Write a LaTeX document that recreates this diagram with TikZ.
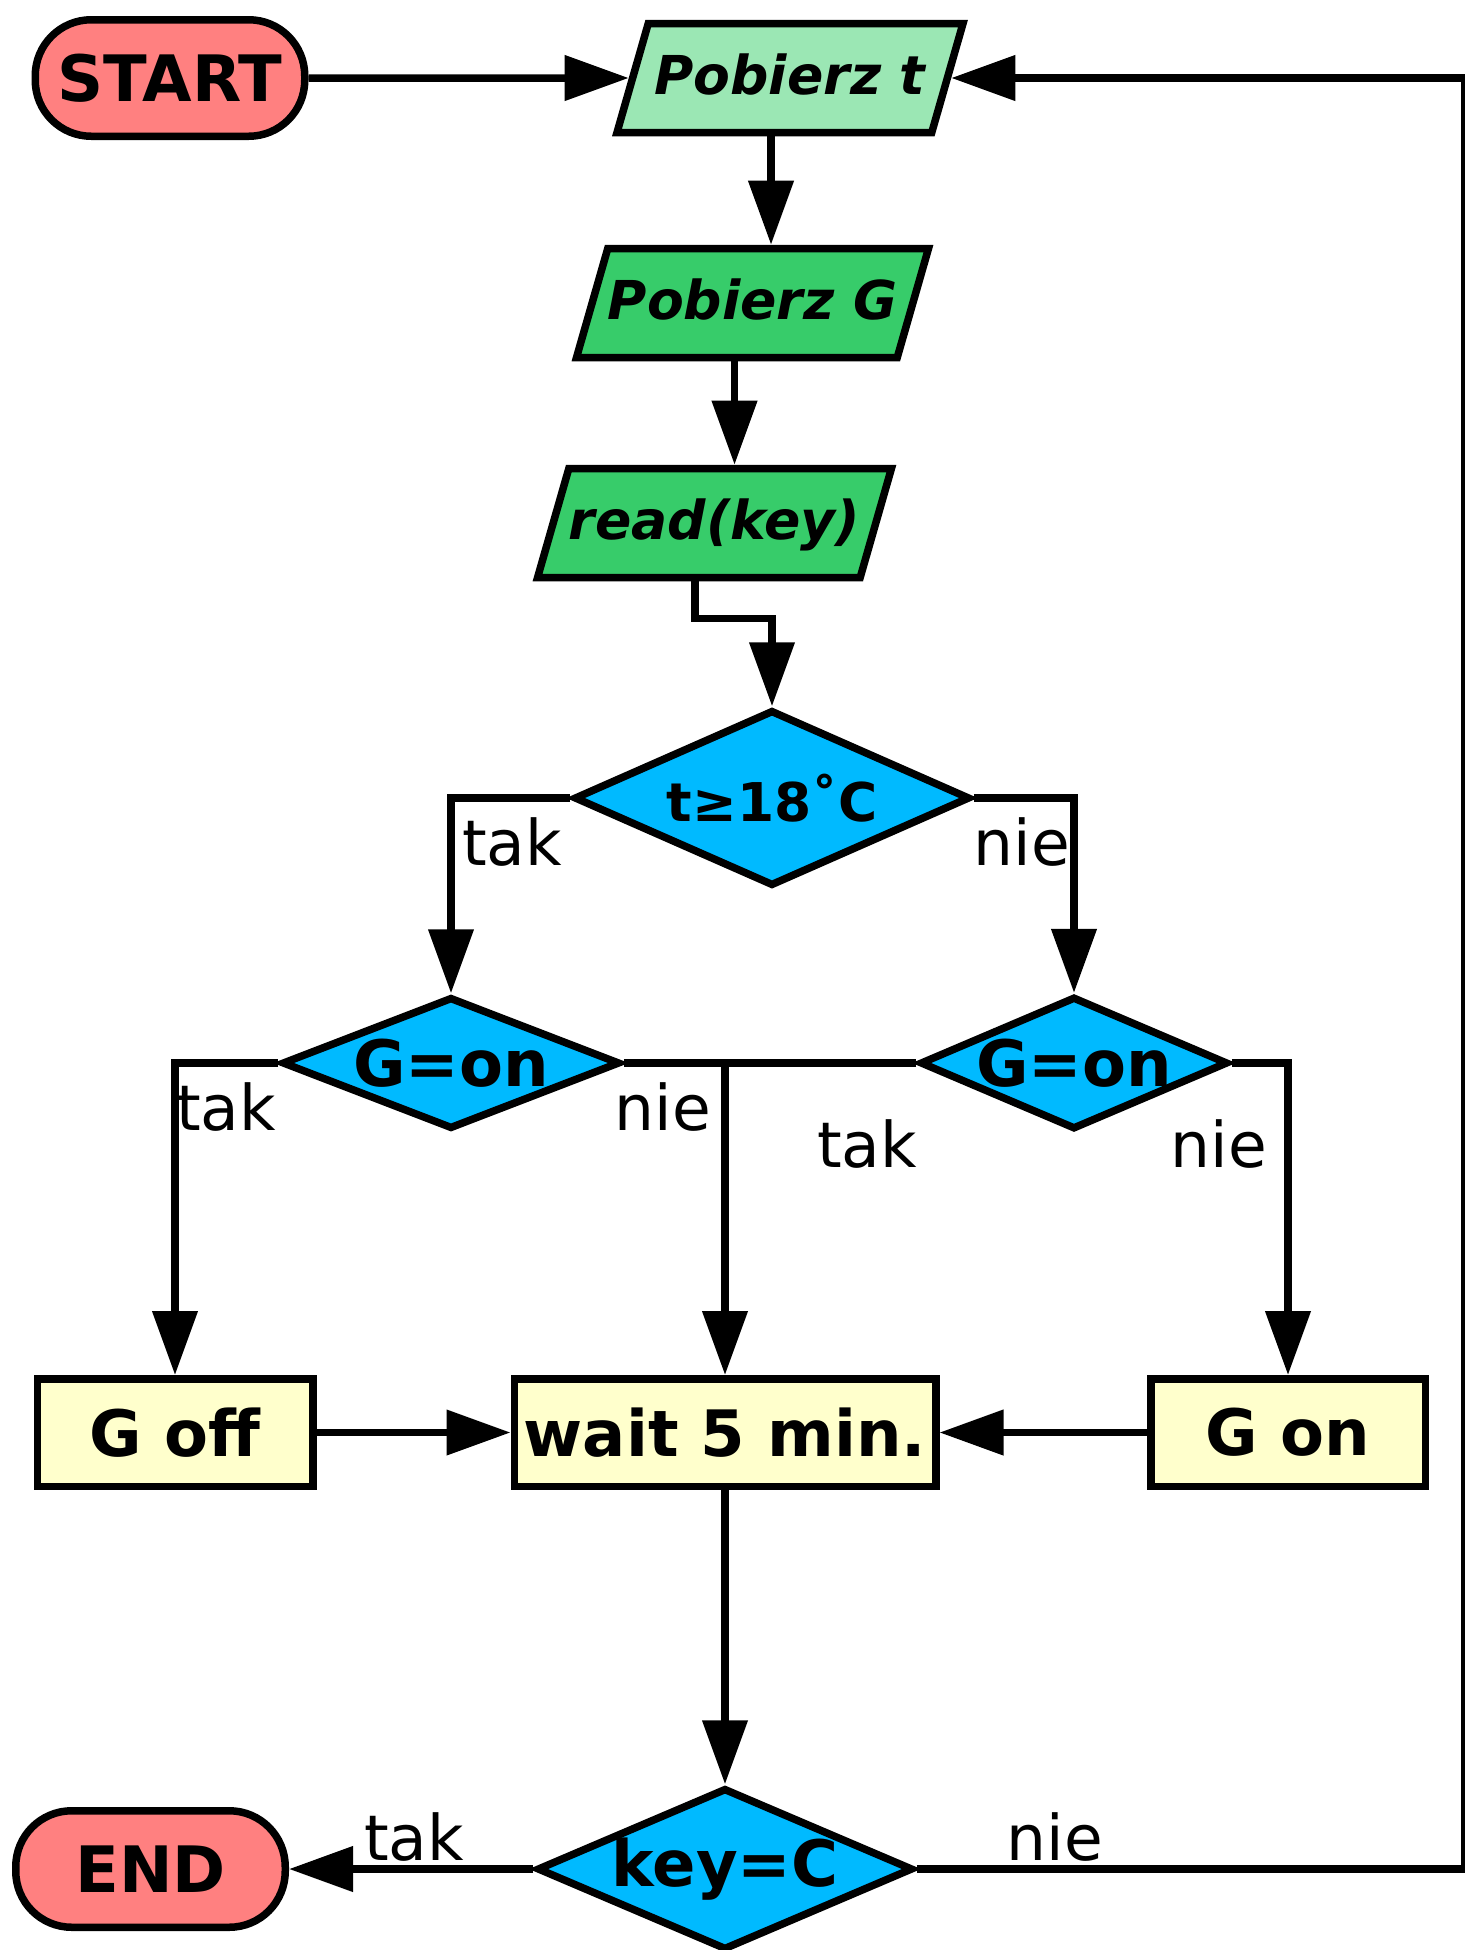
\documentclass[tikz,border=0pt]{standalone}
\usepackage{fontspec}
\setmainfont{DejaVu Sans}
\usetikzlibrary{shapes.geometric,arrows.meta,calc}
\definecolor{termred}{RGB}{255,128,128}
\definecolor{iolight}{RGB}{155,231,180}
\definecolor{iogreen}{RGB}{55,204,106}
\definecolor{decblue}{RGB}{0,186,255}
\definecolor{procyellow}{RGB}{255,255,204}
\begin{document}
\begin{tikzpicture}[x=0.5pt,y=-0.5pt,
  base/.style={draw, line width=3.75pt, inner sep=0pt, font=\fontsize{32}{37}\selectfont\bfseries},
  term/.style={base, fill=termred, rounded corners=28pt, minimum width=134.75pt, minimum height=58.25pt},
  io/.style={base, trapezium, trapezium left angle=74, trapezium right angle=106,
     trapezium stretches body, minimum width=173pt, text height=20pt, text depth=4pt,
     inner xsep=0pt, inner ysep=15.25pt,
     font=\fontsize{26.8}{30}\selectfont\bfseries\itshape},
  proc/.style={base, fill=procyellow, minimum height=53.75pt},
  dec/.style={base, diamond, fill=decblue},
  lab/.style={inner sep=0pt, font=\fontsize{31.5}{36}\selectfont},
  conn/.style={line width=3.75pt},
  arr/.style={conn, -{Triangle[length=32pt,width=22pt]}}
]
\useasboundingbox (0,0) rectangle (1465,1950);

\node[term] (start) at (170,78) {START};
\node[io, fill=iolight] (pt) at (790,78) {Pobierz t};
\node[io, fill=iogreen] (pG) at (752.5,303) {Pobierz G};
\node[io, fill=iogreen] (rk) at (714.5,523) {read(key)};
\node[dec, shape aspect=2.25, minimum width=198pt, minimum height=88pt, font=\fontsize{26.7}{31}\selectfont\bfseries] (D1) at (772,798) {t≥18˚C};
\node[dec, shape aspect=2.56, minimum width=169pt, minimum height=66pt] (D2) at (451,1063) {G=on};
\node[dec, shape aspect=2.32, minimum width=154pt, minimum height=66pt] (D3) at (1074,1063) {G=on};
\node[proc, minimum width=137.75pt] (goff) at (175,1432.5) {G off};
\node[proc, minimum width=210.75pt] (wait) at (725,1432.5) {wait 5 min.};
\node[proc, minimum width=137.25pt] (gon) at (1288,1432.5) {G on};
\node[dec, shape aspect=2.32, minimum width=188pt, minimum height=81pt] (D4) at (725,1869) {key=C};
\node[term] (end) at (150.5,1869) {END};

\node[lab] (l1) at (512,842) {tak};
\node[lab] (l2) at (1022,842) {nie};
\node[lab] (l3) at (226,1107) {tak};
\node[lab] (l4) at (663,1107) {nie};
\node[lab] (l5) at (867,1144) {tak};
\node[lab] (l6) at (1219,1144) {nie};
\node[lab] (l7) at (414,1837) {tak};
\node[lab] (l8) at (1055,1837) {nie};

\coordinate (loop) at (1465,1869);

\draw[arr] (start.east) -- (pt.west);
\draw[arr] ([xshift=-9.5pt]pt.south) -- ([xshift=-9.5pt]pt.south |- pG.north);
\draw[arr] ([xshift=-9pt]pG.south) -- ([xshift=-9pt]pG.south |- rk.north);
\draw[arr] ([xshift=-9.75pt]rk.south) -- ++(0,37) -| (D1.north);
\draw[arr] (D1.west) -| (D2.north);
\draw[arr] (D1.east) -| (D3.north);
\draw[arr] (D2.west) -| (goff.north);
\draw[arr] (D2.east) -| (wait.north);
\draw[conn] (D3.west) -- (D3.west -| wait.north);
\draw[arr] (D3.east) -| (gon.north);
\draw[arr] (goff) -- (wait);
\draw[arr] (gon) -- (wait);
\draw[arr] (wait) -- (D4);
\draw[arr] (D4) -- (end);
\draw[arr] (D4.east) -- (loop) |- (pt.east);
\end{tikzpicture}
\end{document}
